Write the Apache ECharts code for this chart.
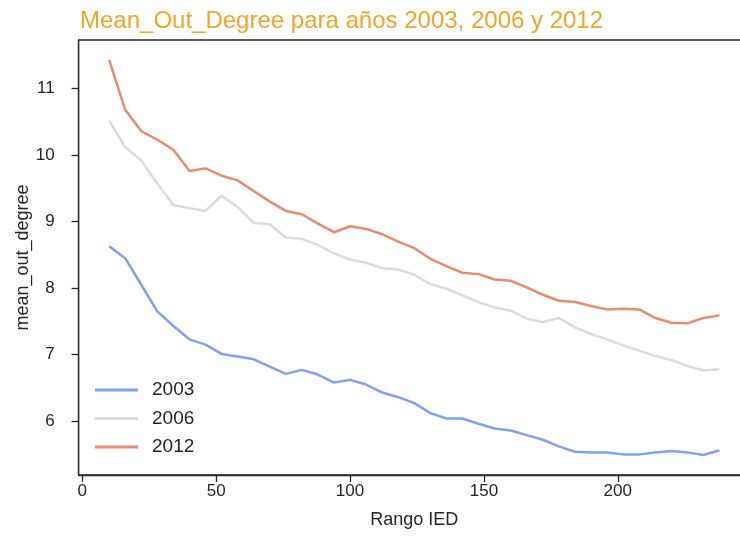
<!DOCTYPE html>
<html>
<head>
<meta charset="utf-8">
<script src="https://cdn.jsdelivr.net/npm/echarts@6/dist/echarts.min.js"></script>
<style>html,body{margin:0;padding:0;background:#fff;overflow:hidden}#c{width:760px;height:541px}</style>
</head>
<body>
<div id="c"></div>
<script>
const rangoIED = [10,16,22,28,34,40,46,52,58,64,70,76,82,88,94,100,106,112,118,124,130,136,142,148,154,160,166,172,178,184,190,196,202,208,214,220,226,232,238];
const s2003 = [8.63,8.45,8.05,7.65,7.43,7.23,7.15,7.01,6.97,6.93,6.82,6.71,6.77,6.70,6.58,6.62,6.55,6.43,6.36,6.27,6.12,6.04,6.04,5.96,5.89,5.86,5.79,5.72,5.62,5.54,5.53,5.53,5.50,5.50,5.53,5.55,5.53,5.49,5.56];
const s2006 = [10.52,10.12,9.92,9.57,9.25,9.20,9.16,9.39,9.22,8.98,8.96,8.76,8.74,8.65,8.52,8.43,8.38,8.30,8.28,8.20,8.06,7.99,7.89,7.79,7.71,7.66,7.54,7.49,7.55,7.41,7.31,7.23,7.14,7.06,6.98,6.92,6.83,6.76,6.78];
const s2012 = [11.43,10.68,10.36,10.23,10.08,9.76,9.80,9.69,9.62,9.46,9.30,9.16,9.11,8.97,8.84,8.93,8.89,8.81,8.70,8.60,8.44,8.33,8.23,8.21,8.13,8.11,8.01,7.90,7.81,7.79,7.73,7.68,7.69,7.68,7.55,7.48,7.47,7.55,7.59];
const xTicks = [0,50,100,150,200];
const yTicks = [6,7,8,9,10,11];
const seriesNames = ['2003','2006','2012'];
const colors = ['#7fa0f5','#dcdcdc','#ec8a6e'];

const chart = echarts.init(document.getElementById('c'), null, {renderer:'canvas'});
const font = 'Liberation Sans, Arial, sans-serif';
const ink = '#262626';
const mk = (name, vals, i) => ({
  name, type:'line', data: rangoIED.map((x,j)=>[x, vals[j]]),
  symbol:'none', showSymbol:false, smooth:false, lineStyle:{width:2.5, color:colors[i]}, itemStyle:{color:colors[i]}, z: 2
});
chart.setOption({
  animation:false,
  title:{text:'Mean_Out_Degree para años 2003, 2006 y 2012', left:75, top:4,
    textStyle:{color:'#f3a52a', fontSize:24, fontWeight:'normal', fontFamily:font}},
  grid:{left:78.6, top:40, right:10, bottom:66, show:true, borderColor:ink, borderWidth:1.3, backgroundColor:'#fff'},
  legend:{orient:'vertical', left:90, top:375, itemWidth:43, itemHeight:3, itemGap:8.5,
    icon:'path://M0,0 L43,0 L43,3 L0,3 Z',
    textStyle:{fontSize:19, lineHeight:20, color:ink, fontFamily:font, padding:[0,0,0,9]}, data:seriesNames},
  xAxis:{type:'value', min:-1.4, max:249.4, name:'Rango IED', nameLocation:'middle', nameGap:36,
    nameMoveOverlap:false,
    nameTextStyle:{fontSize:18, color:ink, fontFamily:font},
    axisLine:{show:true, onZero:false, lineStyle:{color:ink, width:1.3}},
    axisTick:{show:true, length:7, customValues:xTicks, lineStyle:{color:ink, width:1.3}},
    axisLabel:{customValues:xTicks, fontSize:17, color:ink, fontFamily:font, margin:7.5},
    splitLine:{show:false}},
  yAxis:{type:'value', min:5.19, max:11.73, name:'mean_out_degree', nameLocation:'middle', nameGap:47,
    nameMoveOverlap:false,
    nameTextStyle:{fontSize:18, color:ink, fontFamily:font},
    axisLine:{show:true, onZero:false, lineStyle:{color:ink, width:1.3}},
    axisTick:{show:true, length:7, customValues:yTicks, lineStyle:{color:ink, width:1.3}},
    axisLabel:{customValues:yTicks, fontSize:17, color:ink, fontFamily:font, margin:24},
    splitLine:{show:false}},
  series:[mk('2003',s2003,0), mk('2006',s2006,1), mk('2012',s2012,2)]
});
</script>
</body>
</html>
